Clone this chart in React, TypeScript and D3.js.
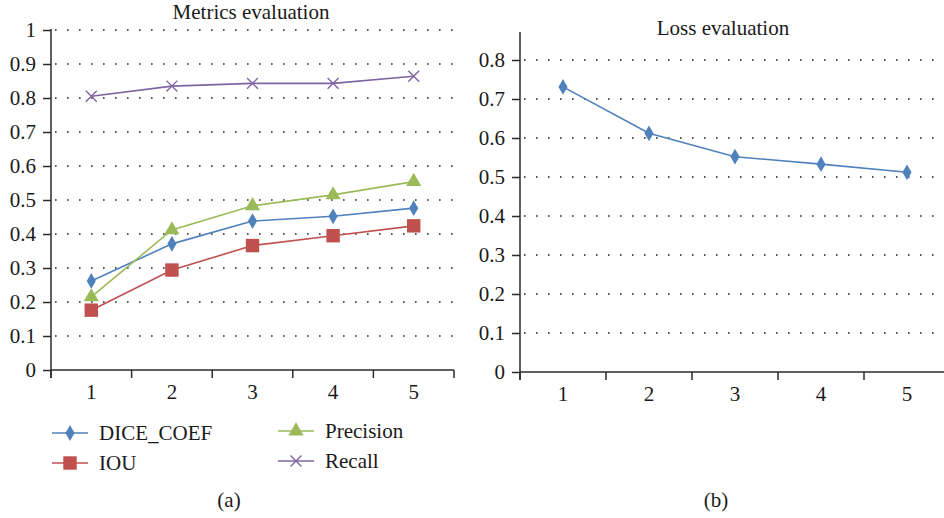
import React, { useEffect, useRef } from "react";
import * as d3 from "d3";

// chart values
const epochs = ["1", "2", "3", "4", "5"];
const diceCoef = [0.262, 0.371, 0.438, 0.452, 0.476];
const iou = [0.176, 0.294, 0.366, 0.395, 0.424];
const precision = [0.215, 0.412, 0.483, 0.515, 0.554];
const recall = [0.805, 0.835, 0.843, 0.843, 0.864];
const loss = [0.731, 0.612, 0.552, 0.533, 0.512];

const metricTicks = [0, 0.1, 0.2, 0.3, 0.4, 0.5, 0.6, 0.7, 0.8, 0.9, 1];
const lossTicks = [0, 0.1, 0.2, 0.3, 0.4, 0.5, 0.6, 0.7, 0.8];

const FONT = "'Liberation Serif', 'DejaVu Serif', serif";
const FS = 21;
const AXIS = "#2b2b2b";
const TXT = "#1a1a1a";

const series = [
  { name: "DICE_COEF", values: diceCoef, color: "#4f81bd", symbol: d3.symbolDiamond, size: 72 },
  { name: "IOU", values: iou, color: "#c0504d", symbol: d3.symbolSquare, size: 180 },
  { name: "Precision", values: precision, color: "#9bbb59", symbol: d3.symbolTriangle, size: 100 },
  { name: "Recall", values: recall, color: "#8064a2", symbol: d3.symbolX, size: 80 },
];

function drawPanel(svg: any, opts: any) {
  const { x0, x1, yBottom, yTop, axisTop, ticks, title, titleX, titleY, lines } = opts;

  const x = d3.scaleBand().domain(epochs).range([x0, x1]).padding(0);
  const y = d3
    .scaleLinear()
    .domain([0, ticks[ticks.length - 1]])
    .range([yBottom, yTop]);

  const g = svg.append("g");

  // dotted gridlines
  g.selectAll(".grid")
    .data(ticks.filter((t: number) => t > 0))
    .join("line")
    .attr("x1", x0 + 4)
    .attr("x2", Math.min(x1 + 2, 944))
    .attr("y1", (d: number) => y(d))
    .attr("y2", (d: number) => y(d))
    .attr("stroke", "#222")
    .attr("stroke-width", 1.6)
    .attr("stroke-dasharray", "1.6,10.4");

  // y axis
  const yAxis = d3
    .axisLeft(y)
    .tickValues(ticks)
    .tickSize(8)
    .tickPadding(7)
    .tickFormat((d: any) => String(d));
  const ya = g.append("g").attr("transform", `translate(${x0},0)`).call(yAxis);
  ya.attr("font-family", FONT).attr("font-size", FS);
  ya.select(".domain").remove();
  ya.selectAll("line").attr("stroke", AXIS).attr("stroke-width", 1.5);
  ya.selectAll("text")
    .attr("font-family", FONT)
    .attr("font-size", FS)
    .attr("fill", TXT);
  g.append("line")
    .attr("x1", x0)
    .attr("x2", x0)
    .attr("y1", axisTop)
    .attr("y2", yBottom + 8)
    .attr("stroke", AXIS)
    .attr("stroke-width", 1.5);

  // x axis
  g.append("line")
    .attr("x1", x0)
    .attr("x2", x1)
    .attr("y1", yBottom)
    .attr("y2", yBottom)
    .attr("stroke", AXIS)
    .attr("stroke-width", 1.5);
  const bounds = epochs.map((e) => x(e) as number).concat([x1]);
  g.selectAll(".xtick")
    .data(bounds)
    .join("line")
    .attr("x1", (d: number) => d)
    .attr("x2", (d: number) => d)
    .attr("y1", yBottom)
    .attr("y2", yBottom + 8)
    .attr("stroke", AXIS)
    .attr("stroke-width", 1.5);
  g.selectAll(".xlabel")
    .data(epochs)
    .join("text")
    .attr("x", (d: string) => (x(d) as number) + x.bandwidth() / 2)
    .attr("y", yBottom + 29)
    .attr("text-anchor", "middle")
    .attr("font-family", FONT)
    .attr("font-size", FS)
    .attr("fill", TXT)
    .text((d: string) => d);

  // title
  g.append("text")
    .attr("x", titleX)
    .attr("y", titleY)
    .attr("text-anchor", "middle")
    .attr("font-family", FONT)
    .attr("font-size", FS)
    .attr("fill", TXT)
    .text(title);

  const cx = (i: number) => (x(epochs[i]) as number) + x.bandwidth() / 2;
  const line = d3
    .line<number>()
    .x((d, i) => cx(i))
    .y((d) => y(d));

  lines.forEach((s: any) => {
    g.append("path")
      .attr("d", line(s.values))
      .attr("fill", "none")
      .attr("stroke", s.color)
      .attr("stroke-width", 1.6);
    const sym = d3.symbol().type(s.symbol).size(s.size);
    const isStroke = s.symbol === d3.symbolX;
    g.selectAll(null)
      .data(s.values)
      .join("path")
      .attr("transform", (d: number, i: number) => `translate(${cx(i)},${y(d)})`)
      .attr("d", sym())
      .attr("fill", isStroke ? "none" : s.color)
      .attr("stroke", isStroke ? s.color : "none")
      .attr("stroke-width", isStroke ? 1.4 : 0);
  });
}

function App() {
  const svgRef = useRef<SVGSVGElement>(null);

  useEffect(() => {
    const svg = d3.select(svgRef.current);
    svg.selectAll("*").remove();

    drawPanel(svg, {
      x0: 51,
      x1: 454,
      yBottom: 370,
      yTop: 30,
      axisTop: 29,
      ticks: metricTicks,
      title: "Metrics evaluation",
      titleX: 251,
      titleY: 19,
      lines: series,
    });

    drawPanel(svg, {
      x0: 520,
      x1: 950,
      yBottom: 372,
      yTop: 60,
      axisTop: 32,
      ticks: lossTicks,
      title: "Loss evaluation",
      titleX: 723,
      titleY: 35,
      lines: [{ name: "Loss", values: loss, color: "#4f81bd", symbol: d3.symbolDiamond, size: 72 }],
    });

    // legend
    const legendPos = [
      { x: 52, y: 433 },
      { x: 52, y: 463 },
      { x: 278, y: 431 },
      { x: 278, y: 461 },
    ];
    const lg = svg.append("g");
    series.forEach((s, i) => {
      const p = legendPos[i];
      lg.append("line")
        .attr("x1", p.x)
        .attr("x2", p.x + 36)
        .attr("y1", p.y)
        .attr("y2", p.y)
        .attr("stroke", s.color)
        .attr("stroke-width", 1.6);
      const isStroke = s.symbol === d3.symbolX;
      lg.append("path")
        .attr("transform", `translate(${p.x + 18},${p.y})`)
        .attr("d", d3.symbol().type(s.symbol).size(s.size)())
        .attr("fill", isStroke ? "none" : s.color)
        .attr("stroke", isStroke ? s.color : "none")
        .attr("stroke-width", isStroke ? 1.4 : 0);
      lg.append("text")
        .attr("x", p.x + 47)
        .attr("y", p.y + 7)
        .attr("font-family", FONT)
        .attr("font-size", FS)
        .attr("fill", TXT)
        .text(s.name);
    });

    // panel captions
    svg.append("text")
      .attr("x", 229)
      .attr("y", 507)
      .attr("text-anchor", "middle")
      .attr("font-family", FONT)
      .attr("font-size", FS)
      .attr("fill", TXT)
      .text("(a)");
    svg.append("text")
      .attr("x", 716)
      .attr("y", 507)
      .attr("text-anchor", "middle")
      .attr("font-family", FONT)
      .attr("font-size", FS)
      .attr("fill", TXT)
      .text("(b)");
  }, []);

  return (
    <svg
      ref={svgRef}
      width={944}
      height={518}
      style={{ position: "absolute", left: 0, top: 0, background: "#fff" }}
    />
  );
}

export default App;
